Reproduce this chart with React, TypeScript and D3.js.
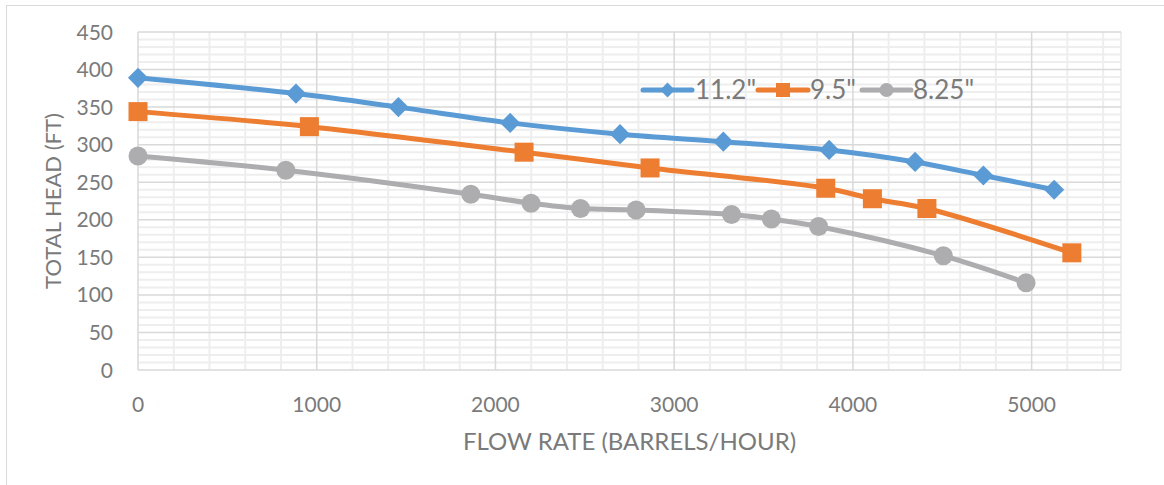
import React from 'react'
import * as d3 from 'd3'

// pump curves: flow rate (barrels/hour) vs total head (ft)
const flow112 = [0, 884, 1457, 2082, 2697, 3275, 3867, 4348, 4730, 5126]
const head112 = [389, 368, 350, 329, 314, 304, 293, 277, 259, 240]
const flow95 = [0, 959, 2160, 2865, 3848, 4109, 4414, 5225]
const head95 = [344, 324, 290, 269, 242, 228, 215, 156]
const flow825 = [0, 827, 1862, 2199, 2476, 2787, 3321, 3544, 3808, 4506, 4969]
const head825 = [285, 266, 234, 222, 215, 213, 207, 201, 191, 152, 116]

const seriesNames = ['11.2"', '9.5"', '8.25"']
const seriesColors = ['#5B9BD5', '#ED7D31', '#ADADAF']
const seriesShapes = ['diamond', 'square', 'circle']

const xTicks = [0, 1000, 2000, 3000, 4000, 5000]
const yTicks = [0, 50, 100, 150, 200, 250, 300, 350, 400, 450]

const W = 1164
const H = 485
const margin = { left: 138, top: 32, right: 1121, bottom: 370 }
const font = 'Lato, "Open Sans", sans-serif'
const textColor = '#7a7a7a'

const Marker = ({ shape, x, y, color, size }: { shape: string; x: number; y: number; color: string; size: number }) => {
  if (shape === 'diamond') {
    const r = size * 0.53
    return <path d={`M${x},${y - r}L${x + r},${y}L${x},${y + r}L${x - r},${y}Z`} fill={color} />
  }
  if (shape === 'square') {
    const h = size / 2
    return <rect x={x - h} y={y - h} width={size} height={size} fill={color} />
  }
  return <circle cx={x} cy={y} r={size / 2} fill={color} />
}

export default function App() {
  const x = d3.scaleLinear().domain([0, 5500]).range([margin.left, margin.right])
  const y = d3.scaleLinear().domain([0, 450]).range([margin.bottom, margin.top])

  const series = [
    flow112.map((f, i) => [f, head112[i]] as [number, number]),
    flow95.map((f, i) => [f, head95[i]] as [number, number]),
    flow825.map((f, i) => [f, head825[i]] as [number, number]),
  ]

  const line = d3
    .line<[number, number]>()
    .x((d) => x(d[0]))
    .y((d) => y(d[1]))
    .curve(d3.curveCatmullRom.alpha(0.5))

  const minorX = d3.range(0, 5501, 200).filter((v) => v % 1000 !== 0)
  const minorY = d3.range(0, 451, 10).filter((v) => v % 50 !== 0)

  // legend layout
  const legendY = 90
  const legendItems = [
    { x0: 643, x1: 692, tx: 695 },
    { x0: 758, x1: 808, tx: 810 },
    { x0: 862, x1: 911, tx: 913 },
  ]

  return (
    <svg width={W} height={H} style={{ position: 'absolute', left: 0, top: 0, background: '#fff' }}>
      <rect x={6.5} y={5.5} width={W + 10} height={H + 10} fill="#fff" stroke="#D9D9D9" strokeWidth={1} />

      {/* minor grid */}
      {minorX.map((v) => (
        <line key={'mx' + v} x1={x(v)} x2={x(v)} y1={margin.top} y2={margin.bottom} stroke="#EEEEEE" strokeWidth={2} />
      ))}
      {minorY.map((v) => (
        <line key={'my' + v} x1={margin.left} x2={margin.right} y1={y(v)} y2={y(v)} stroke="#EEEEEE" strokeWidth={2} />
      ))}
      {/* major grid */}
      {d3.range(0, 5501, 1000).map((v) => (
        <line key={'Mx' + v} x1={x(v)} x2={x(v)} y1={margin.top} y2={margin.bottom} stroke="#D9D9D9" strokeWidth={1.5} />
      ))}
      <line x1={margin.right} x2={margin.right} y1={margin.top} y2={margin.bottom} stroke="#EEEEEE" strokeWidth={2} />
      {yTicks.map((v) => (
        <line key={'My' + v} x1={margin.left} x2={margin.right} y1={y(v)} y2={y(v)} stroke="#D9D9D9" strokeWidth={1.5} />
      ))}

      {/* tick labels */}
      {yTicks.map((v) => (
        <text key={'yl' + v} x={113} y={y(v)} dy="0.36em" textAnchor="end" fontFamily={font} fontSize={21} fill={textColor}>
          {v}
        </text>
      ))}
      {xTicks.map((v) => (
        <text key={'xl' + v} x={x(v)} y={404} dy="0.36em" textAnchor="middle" fontFamily={font} fontSize={21} fill={textColor}>
          {v}
        </text>
      ))}

      {/* axis titles */}
      <text x={(margin.left + margin.right) / 2} y={441} dy="0.36em" textAnchor="middle" fontFamily={font} fontSize={24} fill={textColor}>
        FLOW RATE (BARRELS/HOUR)
      </text>
      <text
        transform={`translate(53, ${(margin.top + margin.bottom) / 2}) rotate(-90)`}
        dy="0.36em"
        textAnchor="middle"
        fontFamily={font}
        fontSize={22}
        fill={textColor}
      >
        TOTAL HEAD (FT)
      </text>

      {/* series */}
      {series.map((s, i) => (
        <g key={'s' + i}>
          <path d={line(s) || ''} fill="none" stroke={seriesColors[i]} strokeWidth={5} strokeLinecap="round" strokeLinejoin="round" />
          {s.map((d, j) => (
            <Marker key={j} shape={seriesShapes[i]} x={x(d[0])} y={y(d[1])} color={seriesColors[i]} size={19} />
          ))}
        </g>
      ))}

      {/* legend */}
      {legendItems.map((it, i) => (
        <g key={'lg' + i}>
          <line x1={it.x0} x2={it.x1} y1={legendY} y2={legendY} stroke={seriesColors[i]} strokeWidth={5} strokeLinecap="round" />
          <Marker shape={seriesShapes[i]} x={(it.x0 + it.x1) / 2} y={legendY} color={seriesColors[i]} size={14} />
          <text x={it.tx} y={legendY} dy="0.36em" fontFamily={font} fontSize={26} fill={textColor}>
            {seriesNames[i]}
          </text>
        </g>
      ))}
    </svg>
  )
}
